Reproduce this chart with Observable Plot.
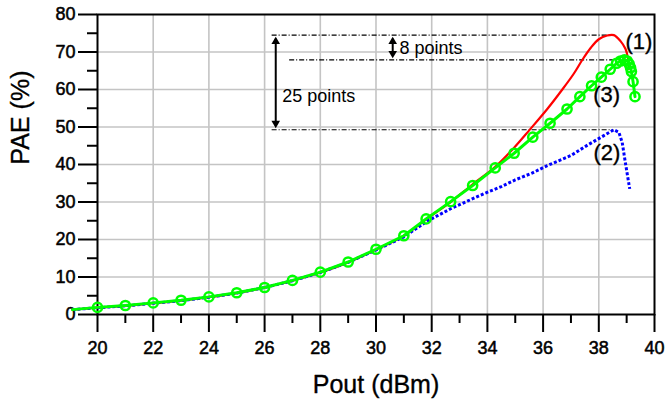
<!DOCTYPE html>
<html>
<head>
<meta charset="utf-8">
<script src="https://cdn.jsdelivr.net/npm/d3@7"></script>
<script src="https://cdn.jsdelivr.net/npm/@observablehq/plot@0.6"></script>
<style>
  html, body { margin: 0; padding: 0; background: #fff; }
</style>
</head>
<body>
<div id="chart"></div>
<script>
// Curve (1): PAE vs output power (red, solid)
const pout1 = [19.1, 20, 21, 22, 23, 24, 25, 26, 27, 28, 29, 30, 31, 31.8, 32.68, 33.45, 34.27, 34.95, 35.5, 36.15,
               36.69, 37.1, 37.4, 37.7, 38.0, 38.3, 38.54, 38.78, 38.96, 39.04, 39.08];
const pae1  = [1.3, 1.8, 2.3, 3.0, 3.7, 4.6, 5.7, 7.2, 9.0, 11.2, 13.9, 17.3, 21.0, 25.4, 30.0, 34.6, 39.3, 44.4, 49.1, 54.8,
               60.0, 64.2, 67.8, 71.0, 73.4, 74.4, 74.5, 72.9, 70.8, 68.6, 65.5];

// Curve (2): blue, dotted
const pout2 = [19.1, 20, 21, 22, 23, 24, 25, 26, 27, 28, 29, 30, 31, 31.84, 32.68, 33.3, 33.87, 34.5, 35.0, 35.6,
               36.15, 37.0, 37.58, 38.18, 38.54, 38.72, 38.84, 38.96, 39.11];
const pae2  = [1.3, 1.8, 2.3, 3.0, 3.7, 4.6, 5.7, 7.2, 9.0, 11.2, 13.9, 17.2, 20.7, 24.9, 28.2, 30.3, 32.2, 34.1, 35.9, 37.7,
               39.7, 42.4, 45.1, 47.7, 49.25, 48.6, 45.9, 40.2, 33.5];

// Curve (3): green, measured points with circle markers (first point is the line start only)
const pout3 = [19.1, 20, 21, 22, 23, 24, 25, 26, 27, 28, 29, 30, 31, 31.8, 32.68, 33.47, 34.28, 34.96, 35.63, 36.25,
               36.86, 37.32, 37.74, 38.09, 38.41, 38.64, 38.78, 38.92, 39.02, 39.09, 39.14, 39.17, 39.23, 39.3];
const pae3  = [1.3, 1.9, 2.4, 3.1, 3.8, 4.7, 5.8, 7.2, 9.1, 11.3, 14.0, 17.4, 21.0, 25.5, 30.1, 34.4, 39.1, 43.0, 47.3, 51.0,
               54.8, 58.1, 61.0, 63.3, 65.4, 67.0, 67.6, 67.9, 67.6, 66.8, 65.8, 64.8, 62.1, 58.1];

// Axis ticks
const xMajor = [20, 22, 24, 26, 28, 30, 32, 34, 36, 38, 40];
const xMinor = [21, 23, 25, 27, 29, 31, 33, 35, 37, 39];
const yMajor = [0, 10, 20, 30, 40, 50, 60, 70, 80];
const yMinor = [5, 15, 25, 35, 45, 55, 65, 75];

// Text
const curveNames = ["(1)", "(2)", "(3)"];
const gapLabels = ["25 points", "8 points"];
const xTitle = "Pout (dBm)";
const yTitle = "PAE (%)";

const series = (xs, ys) => xs.map((x, i) => ({x, y: ys[i]}));
const s1 = series(pout1, pae1);
const s2 = series(pout2, pae2);
const s3 = series(pout3, pae3);

// Peak levels of each curve, used by the reference lines and the arrows
const peak1 = d3.max(pae1), peak2 = d3.max(pae2), peak3 = d3.max(pae3);
const refLines = [
  {y: peak1, x1: 26.27, x2: 38.54},
  {y: peak3, x1: 26.9,  x2: 38.8},
  {y: peak2, x1: 26.27, x2: 38.54}
];
const arrows = [
  {x: 26.4, top: peak1, bottom: peak2},
  {x: 30.6, top: peak1, bottom: peak3}
];
const heads = arrows.flatMap(a => [
  {x: a.x, y: a.top, up: true},
  {x: a.x, y: a.bottom, up: false}
]);
const gapText = [
  {x: 26.63, y: 58.3, text: gapLabels[0]},
  {x: 30.84, y: 71.1, text: gapLabels[1]}
];
const nameText = [
  {x: 38.96, y: 72.6, text: curveNames[0]},
  {x: 37.81, y: 43.0, text: curveNames[1]},
  {x: 37.8,  y: 58.5, text: curveNames[2]}
];

const font = "'Liberation Sans', Arial, Helvetica, sans-serif";
// slightly heavier glyphs for the titles, tick labels and curve names
const heavy = {fill: "#000", stroke: "#000", strokeWidth: 0.35};
const heavyTicks = {textStroke: "#000", textStrokeWidth: 0.5};

const chart = Plot.plot({
  width: 667,
  height: 405,
  marginLeft: 97,
  marginRight: 13,
  marginTop: 14,
  marginBottom: 91,
  style: {fontFamily: font, fontSize: "18px", color: "#000", background: "#fff"},
  x: {domain: [20, 40]},
  y: {domain: [0, 80]},
  marks: [
    Plot.gridX(xMajor.slice(1, -1), {stroke: "#c4c4c4", strokeOpacity: 1, strokeWidth: 1.6}),
    Plot.gridY(yMajor.slice(1, -1), {stroke: "#c4c4c4", strokeOpacity: 1, strokeWidth: 1.6}),
    Plot.frame({stroke: "#000", strokeWidth: 2}),
    Plot.axisY(yMajor, {tickSize: 19, tickPadding: 3, strokeWidth: 2, fontSize: 18, label: null, ...heavyTicks}),
    Plot.axisY(yMinor, {tickSize: 10, tickFormat: () => "", strokeWidth: 2, label: null}),
    Plot.axisX(xMajor, {tickSize: 18, tickPadding: 9, strokeWidth: 2, fontSize: 18, label: null, ...heavyTicks}),
    Plot.axisX(xMinor, {tickSize: 9, tickFormat: () => "", strokeWidth: 2, label: null}),
    Plot.text([yTitle], {frameAnchor: "left", dx: -77, rotate: -90, fontSize: 25, ...heavy}),
    Plot.text([xTitle], {frameAnchor: "bottom", dy: 78, fontSize: 25, ...heavy}),

    // dash-dot reference levels
    Plot.ruleY(refLines, {y: "y", x1: "x1", x2: "x2", stroke: "#000", strokeWidth: 1.1, strokeDasharray: "5,2,1,2"}),

    // curves
    Plot.line(s1, {x: "x", y: "y", stroke: "#ff0000", strokeWidth: 2.2, curve: "catmull-rom"}),
    Plot.line(s2, {x: "x", y: "y", stroke: "#0000ff", strokeWidth: 3, strokeLinecap: "butt",
                   strokeLinejoin: "miter", strokeDasharray: "3,2"}),
    Plot.line(s3, {x: "x", y: "y", stroke: "#00ff00", strokeWidth: 3}),
    Plot.dot(s3, {x: "x", y: "y", filter: (d, i) => i > 0, r: 4.6, stroke: "#00ff00", strokeWidth: 2.5, fill: "none"}),

    // double arrows between the peak levels
    Plot.ruleX(arrows, {x: "x", y1: "top", y2: "bottom", stroke: "#000", strokeWidth: 2, insetTop: 4, insetBottom: 4}),
    Plot.dot(heads.filter(d => d.up), {x: "x", y: "y", symbol: "triangle", r: 3.2, fill: "#000", stroke: "none", dy: 6.5}),
    Plot.dot(heads.filter(d => !d.up), {x: "x", y: "y", symbol: "triangle", r: 3.2, fill: "#000", stroke: "none", rotate: 180, dy: -6.5}),

    Plot.text(gapText, {x: "x", y: "y", text: "text", textAnchor: "start", fontSize: 18}),
    Plot.text(nameText, {x: "x", y: "y", text: "text", textAnchor: "start", fontSize: 22, ...heavy})
  ]
});

document.getElementById("chart").appendChild(chart);
</script>
</body>
</html>
